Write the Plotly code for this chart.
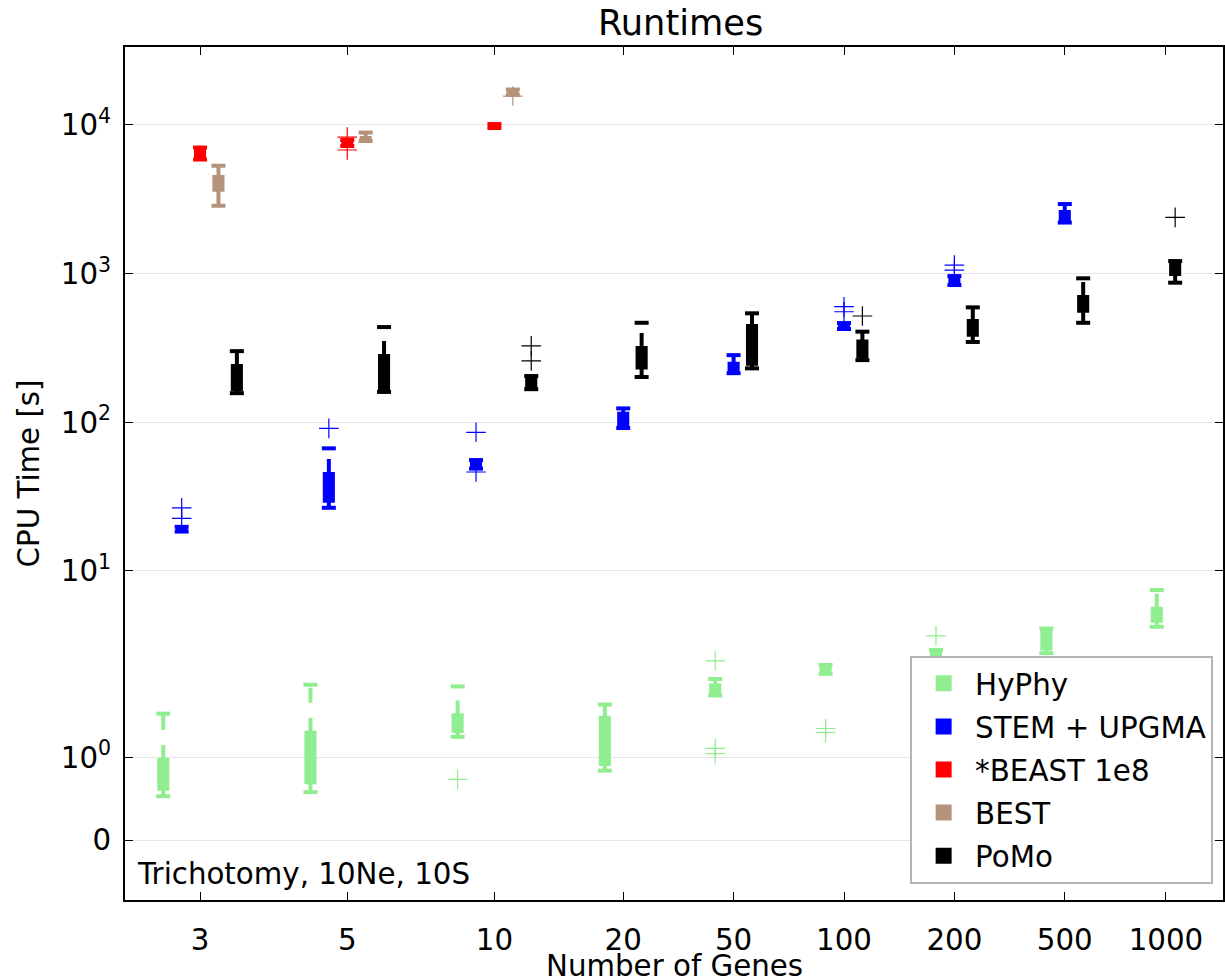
import numpy as np
import plotly.graph_objects as go

# ---------------- data (CPU time in seconds) ----------------
genes = [3, 5, 10, 20, 50, 100, 200, 500, 1000]
methods = ["HyPhy", "STEM + UPGMA", "*BEAST 1e8", "BEST", "PoMo"]
colors = ["#90EE90", "#0000FF", "#FF0000", "#B5937A", "#000000"]

hyphy_genes = [3, 5, 10, 20, 50, 100, 200, 500, 1000]
hyphy_lo = [0.53, 0.58, 1.25, 0.84, 1.75, 2.03, 2.55, 2.80, 4.21]
hyphy_q1 = [0.62, 0.70, 1.32, 0.92, 1.78, 2.09, 2.63, 3.01, 4.62]
hyphy_med = [0.80, 1.00, 1.40, 1.10, 1.82, 2.17, 2.74, 3.40, 5.00]
hyphy_q3 = [0.97, 1.30, 1.51, 1.48, 1.87, 2.26, 2.85, 3.94, 5.57]
hyphy_hi = [1.53, 1.88, 1.86, 1.64, 1.95, 2.33, 2.94, 4.10, 7.44]
hyphy_fliers = [[], [], [0.735], [], [2.48, 1.11, 1.045], [1.35, 1.30], [3.66], [], []]

stem_genes = [3, 5, 10, 20, 50, 100, 200, 500]
stem_lo = [18.4, 26.6, 48.8, 91.5, 214, 424, 838, 2206]
stem_q1 = [18.7, 29.7, 50.0, 93.9, 220, 437, 865, 2248]
stem_med = [19.1, 36.0, 51.5, 104, 233, 446, 900, 2420]
stem_q3 = [19.5, 44.9, 52.8, 114, 248, 455, 934, 2597]
stem_hi = [19.8, 66.8, 55.7, 124, 283, 465, 963, 2939]
stem_fliers = [[26.6, 22.6], [91], [85.6, 46.3], [], [], [599, 554], [1142, 1057], []]

beast_genes = [3, 5, 10]
beast_lo = [5856, 7218, 9538]
beast_q1 = [6086, 7388, 9686]
beast_med = [6400, 7526, 9838]
beast_q3 = [6786, 7680, 9990]
beast_hi = [7052, 7922, 10146]
beast_fliers = [[], [8298, 6786], []]

best_genes = [3, 5, 10]
best_lo = [2862, 7800, 15904]
best_q1 = [3668, 8046, 16276]
best_med = [4000, 8100, 16500]
best_q3 = [4466, 8172, 16788]
best_hi = [5320, 8894, 17316]
best_fliers = [[], [], [15660]]

pomo_genes = [3, 5, 10, 20, 50, 100, 200, 500, 1000]
pomo_lo = [157, 160, 167, 201.6, 230.6, 262, 347, 467, 869]
pomo_q1 = [167, 167, 175, 234, 247.6, 278, 388, 563, 994]
pomo_med = [200, 200, 185, 270, 330, 310, 430, 620, 1080]
pomo_q3 = [239, 279, 195, 316, 444, 350, 480, 696, 1197]
pomo_hi = [301, 437, 204.7, 467, 541, 407, 593, 930, 1215]
pomo_fliers = [[], [], [327, 259], [], [], [519], [], [], [2391]]

y_tick_values = [0, 1, 10, 100, 1000, 10000]
y_tick_labels = ["0", "10<sup>0</sup>", "10<sup>1</sup>", "10<sup>2</sup>",
                 "10<sup>3</sup>", "10<sup>4</sup>"]

series = [
    (hyphy_genes, hyphy_lo, hyphy_q1, hyphy_med, hyphy_q3, hyphy_hi, hyphy_fliers),
    (stem_genes, stem_lo, stem_q1, stem_med, stem_q3, stem_hi, stem_fliers),
    (beast_genes, beast_lo, beast_q1, beast_med, beast_q3, beast_hi, beast_fliers),
    (best_genes, best_lo, best_q1, best_med, best_q3, best_hi, best_fliers),
    (pomo_genes, pomo_lo, pomo_q1, pomo_med, pomo_q3, pomo_hi, pomo_fliers),
]

# ---------------- symmetric log scale (matplotlib 'symlog', linthresh=2) ----------------
LINTHRESH = 2.0
LINSCALE = 1.0


def symlog(v):
    v = np.asarray(v, dtype=float)
    adj = LINSCALE / (1.0 - 1.0 / 10.0)
    a = np.abs(v)
    out = np.where(a <= LINTHRESH, a / LINTHRESH * adj,
                   adj + np.log10(np.maximum(a, 1e-300) / LINTHRESH))
    return np.sign(v) * out


# ---------------- box positions: groups of the methods present at each gene count ----------------
GAP = 3.0
present = [[m for m, s in enumerate(series) if g in s[0]] for g in genes]
centers = []
for k, grp in enumerate(present):
    if k == 0:
        centers.append(0.0)
    else:
        centers.append(centers[-1] + len(present[k - 1]) / 2 + GAP + len(grp) / 2)


def position(method_idx, gene):
    k = genes.index(gene)
    grp = present[k]
    i = grp.index(method_idx)
    return centers[k] + (i - (len(grp) - 1) / 2)


FONT = "DejaVu Sans"
BASE = 29.3

fig = go.Figure()
for m, (gs, lo, q1, med, q3, hi, fl) in enumerate(series):
    col = colors[m]
    xs = [position(m, g) for g in gs]
    grp = "g%d" % m
    fig.add_trace(go.Box(
        x=xs, q1=symlog(q1), median=symlog(med), q3=symlog(q3),
        lowerfence=symlog(q1), upperfence=symlog(q3),
        orientation="v", width=0.44, whiskerwidth=0,
        fillcolor=col, line=dict(color=col, width=4),
        boxpoints=False, name=methods[m], legendgroup=grp, showlegend=True,
        hoverinfo="skip",
    ))
    # dashed whiskers (q3 -> high, q1 -> low)
    wx, wy = [], []
    for x, a, b, c, d in zip(xs, q3, hi, q1, lo):
        wx += [x, x, None, x, x, None]
        wy += [float(symlog(a)), float(symlog(b)), None, float(symlog(c)), float(symlog(d)), None]
    fig.add_trace(go.Scatter(
        x=wx, y=wy, mode="lines", line=dict(color=col, width=4, dash="15px,15px"),
        legendgroup=grp, showlegend=False, hoverinfo="skip",
    ))
    # caps
    fig.add_trace(go.Scatter(
        x=xs + xs, y=list(symlog(hi)) + list(symlog(lo)), mode="markers",
        marker=dict(symbol="line-ew", size=10, line=dict(color=col, width=4)),
        legendgroup=grp, showlegend=False, hoverinfo="skip",
    ))
    # outliers
    fx, fy = [], []
    for x, f in zip(xs, fl):
        for v in f:
            fx.append(x)
            fy.append(float(symlog(v)))
    if fx:
        fig.add_trace(go.Scatter(
            x=fx, y=fy, mode="markers",
            marker=dict(symbol="cross-thin", size=14, line=dict(color=col, width=1.2)),
            legendgroup=grp, showlegend=False, hoverinfo="skip",
        ))

fig.update_layout(
    width=1225, height=978,
    margin=dict(l=125, r=2, t=47, b=78, autoexpand=False),
    paper_bgcolor="white", plot_bgcolor="white",
    font=dict(family=FONT, size=BASE, color="black"),
    title=dict(text="Runtimes", x=0.506, xref="paper", xanchor="center",
               y=1 - 23 / 978, yanchor="middle", font=dict(size=35.2, family=FONT)),
    showlegend=True,
    legend=dict(x=0.991, xanchor="right", y=0.019, yanchor="bottom",
                bgcolor="white", bordercolor="#b3b3b3", borderwidth=2,
                font=dict(size=BASE, family=FONT), tracegroupgap=2,
                traceorder="grouped", itemwidth=53),
    hovermode=False,
    boxmode="overlay",
    annotations=[
        dict(text="Trichotomy, 10Ne, 10S", xref="paper", yref="paper",
             x=0.009, y=(900 - 874) / 853, xanchor="left", yanchor="middle",
             showarrow=False, font=dict(size=BASE, family=FONT)),
        # x-axis title, placed as in the reference (just below the tick labels)
        dict(text="Number of Genes", xref="paper", yref="paper",
             x=0.5, y=(900 - 966) / 853, xanchor="center", yanchor="middle",
             showarrow=False, font=dict(size=BASE, family=FONT)),
    ],
)
fig.update_xaxes(
    range=[-4.08, centers[-1] + 3.1],
    tickmode="array", tickvals=centers, ticktext=[str(g) for g in genes],
    ticks="inside", ticklen=8, tickwidth=1, tickcolor="black",
    showline=True, linewidth=2, linecolor="black", mirror="ticks",
    showgrid=False, zeroline=False, ticklabelstandoff=13, automargin=False,
)
fig.update_yaxes(
    range=[-0.4036, 5.3347],
    tickmode="array", tickvals=list(symlog(y_tick_values)), ticktext=y_tick_labels,
    ticks="inside", ticklen=8, tickwidth=1, tickcolor="black",
    showline=True, linewidth=2, linecolor="black", mirror="ticks",
    showgrid=True, gridcolor="#e6e6e6", gridwidth=1, zeroline=False, ticklabelstandoff=6,
    automargin=False,
    title=dict(text="CPU Time [s]", font=dict(size=BASE, family=FONT), standoff=13),
)

fig.write_html("out.html")
